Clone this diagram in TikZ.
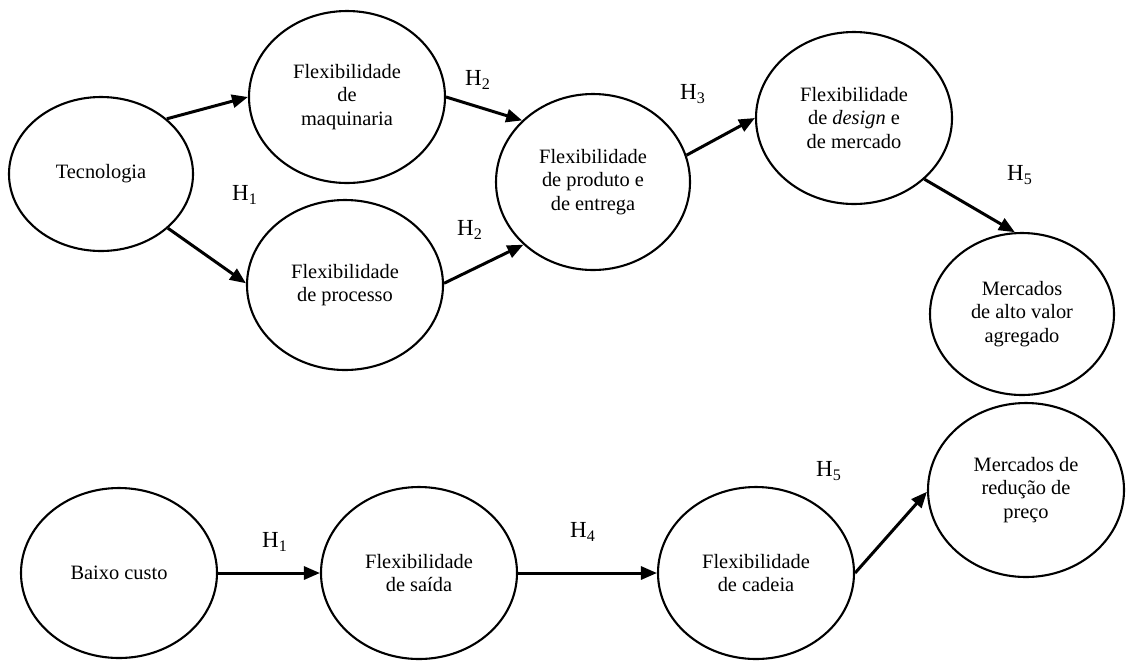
\documentclass[tikz,border=0pt]{standalone}
\usepackage{fontspec}
\setmainfont{Liberation Serif}
\usetikzlibrary{arrows.meta,shapes.geometric}
\begin{document}
\begin{tikzpicture}[x=0.5pt,y=-0.5pt,
  oval/.style={ellipse, draw, line width=1.05pt, inner sep=0pt, align=center,
    font=\fontsize{10.2}{11.75}\selectfont},
  hyp/.style={font=\fontsize{11.5}{13}\selectfont, inner sep=0pt},
  link/.style={-{Triangle[length=8pt,width=6.5pt]}, line width=1.5pt}]
\useasboundingbox (0,0) rectangle (1128,660);
% top row
\node[oval, minimum width=92pt, minimum height=77pt] (tec) at (101,174) {Tecnologia};
\node[oval, minimum width=98pt, minimum height=86pt] (maq) at (347,97) {Flexibilidade\\de\\maquinaria};
\node[oval, minimum width=98pt, minimum height=85pt] (proc) at (345,285) {Flexibilidade\\de processo};
\node[oval, minimum width=97pt, minimum height=88pt] (prod) at (593,182) {Flexibilidade\\de produto e\\de entrega};
\node[oval, minimum width=98pt, minimum height=86pt] (des) at (854,118) {Flexibilidade\\de \textit{design} e\\de mercado};
\node[oval, minimum width=92pt, minimum height=81pt] (alto) at (1022,314) {Mercados\\de alto valor\\agregado};
% bottom row
\node[oval, minimum width=98pt, minimum height=85pt] (baixo) at (119,573) {Baixo custo};
\node[oval, minimum width=98pt, minimum height=86pt] (saida) at (419,573) {Flexibilidade\\de saída};
\node[oval, minimum width=98pt, minimum height=86pt] (cadeia) at (756,573) {Flexibilidade\\de cadeia};
\node[oval, minimum width=98pt, minimum height=87pt] (red) at (1026,490) {Mercados de\\redução de\\preço};
% connectors
\draw[link] (tec.40) -- (maq.180);
\draw[link] (tec.-39) -- (proc.179);
\draw[link] (maq.0) -- (prod.139);
\draw[link] (proc.1) -- (prod.222);
\draw[link] (prod.16) -- (des.180);
\draw[link] (des.-41) -- (alto.95);
\draw[link] (baixo.0) -- (saida.180);
\draw[link] (saida.0) -- (cadeia.180);
\draw[link] (cadeia.0) -- (red.181);
% hypothesis labels
\node[hyp] (h2a) at (478,80) {H\textsubscript{2}};
\node[hyp] (h1a) at (245,195) {H\textsubscript{1}};
\node[hyp] (h2b) at (470,230) {H\textsubscript{2}};
\node[hyp] (h3) at (693,94) {H\textsubscript{3}};
\node[hyp] (h5a) at (1020,175) {H\textsubscript{5}};
\node[hyp] (h1b) at (275,542) {H\textsubscript{1}};
\node[hyp] (h4) at (583,532) {H\textsubscript{4}};
\node[hyp] (h5b) at (829,471) {H\textsubscript{5}};
\end{tikzpicture}
\end{document}
